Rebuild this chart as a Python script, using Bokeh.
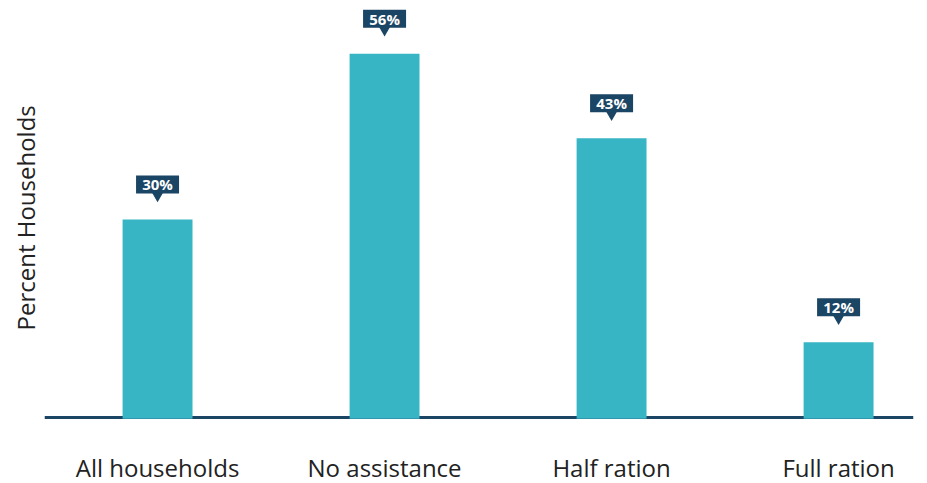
from bokeh.plotting import figure
from bokeh.models import Range1d, FixedTicker, Span, Title
from bokeh.core.properties import value
from bokeh.embed import file_html
from bokeh.resources import INLINE

categories = ["All households", "No assistance", "Half ration", "Full ration"]
percents = [30.5, 56, 43, 11.6]
labels = ["30%", "56%", "43%", "12%"]
y_title = "Percent Households"

BAR = "#37b5c4"
NAVY = "#1b4565"
FONT = "Open Sans"

x = list(range(len(categories)))
x_start, x_end = -0.498, 3.33
y_start, y_end = -0.3, 64.2
frame_w, frame_h = 869, 419
scale = frame_h / (y_end - y_start)  # px per data unit

p = figure(width=927, height=483, output_backend="svg", toolbar_location=None,
           x_range=Range1d(x_start, x_end), y_range=Range1d(y_start, y_end),
           frame_width=frame_w, frame_height=frame_h,
           min_border_left=44, min_border_right=14, min_border_top=0, min_border_bottom=64)
p.outline_line_color = None
p.grid.grid_line_color = None
p.background_fill_color = "white"
p.border_fill_color = "white"
p.yaxis.visible = False

p.add_layout(Span(location=0, dimension="width", line_color=NAVY, line_width=3, level="underlay"))

p.vbar(x=x, top=percents, bottom=-0.2, width=0.308, fill_color=BAR, line_color=None)

box_y = [v + 35 / scale for v in percents]
tri_y = [v + 23.5 / scale for v in percents]
p.scatter(x=x, y=tri_y, marker="inverted_triangle", size=11, fill_color=NAVY, line_color=None)
p.rect(x=x, y=box_y, width=43, height=18, width_units="screen", height_units="screen",
       fill_color=NAVY, line_color=None)
p.text(x=x, y=box_y, text=labels, text_color="white", text_font=value(FONT),
       text_font_style="bold", text_font_size="15px", text_align="center", text_baseline="middle")

p.add_layout(Title(text=y_title, align="left", offset=89, standoff=6,
                   text_font=FONT, text_font_size="24px", text_font_style="normal",
                   text_color="#222222"), "left")

xa = p.xaxis[0]
xa.ticker = FixedTicker(ticks=x)
xa.major_label_overrides = {i: c for i, c in enumerate(categories)}
xa.axis_line_color = None
xa.major_tick_line_color = None
xa.minor_tick_line_color = None
xa.major_label_standoff = 25
xa.major_label_text_font = FONT
xa.major_label_text_font_size = "24px"
xa.major_label_text_color = "#222222"

open("out.html", "w").write(file_html(p, INLINE))
